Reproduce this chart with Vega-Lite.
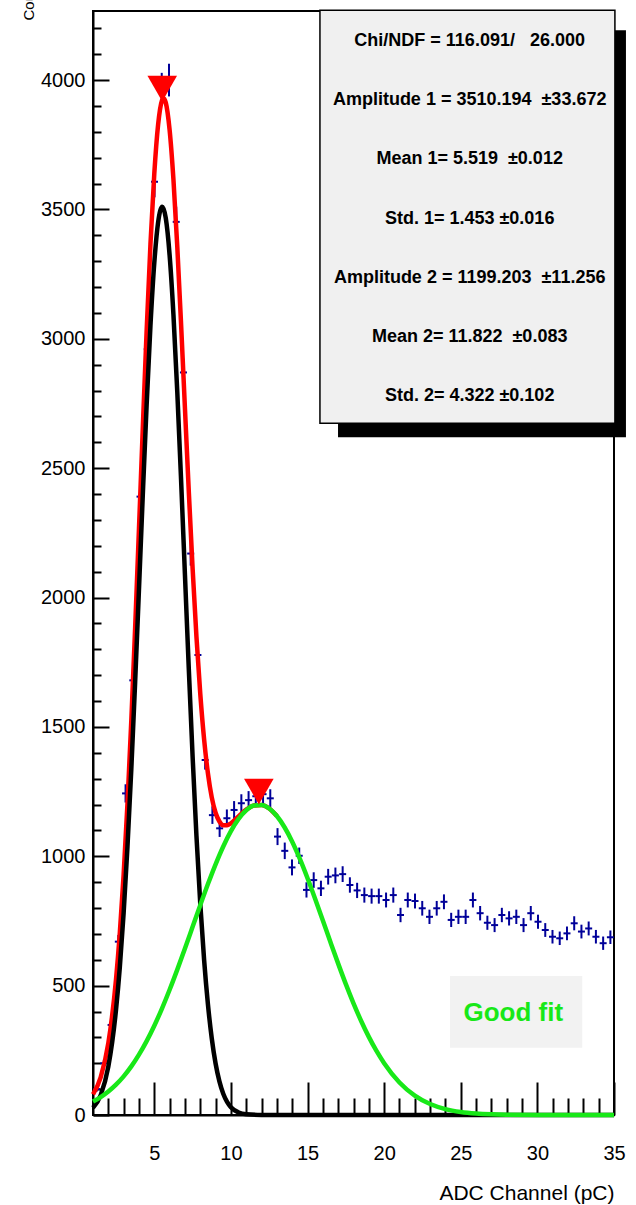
{
  "$schema": "https://vega.github.io/schema/vega-lite/v6.json",
  "width": 521,
  "height": 1104,
  "autosize": {"type": "none"},
  "padding": {"left": 93, "top": 11, "right": 22, "bottom": 90},
  "background": "white",
  "config": {
    "view": {"stroke": "black", "strokeWidth": 2},
    "font": "Liberation Sans",
    "axis": {"grid": false}
  },
  "resolve": {"axis": {"x": "independent", "y": "independent"}},
  "datasets": {
    "hist": [
      {"x": 1.236, "count": 100, "err": 10.0},
      {"x": 1.708, "count": 200, "err": 14.1},
      {"x": 2.181, "count": 348, "err": 18.7},
      {"x": 2.653, "count": 670, "err": 25.9},
      {"x": 3.125, "count": 1243, "err": 35.3},
      {"x": 3.597, "count": 1680, "err": 41.0},
      {"x": 4.069, "count": 2390, "err": 48.9},
      {"x": 4.542, "count": 2960, "err": 54.4},
      {"x": 5.014, "count": 3607, "err": 60.1},
      {"x": 5.486, "count": 3965, "err": 63.0},
      {"x": 5.958, "count": 4000, "err": 63.2},
      {"x": 6.431, "count": 3452, "err": 58.8},
      {"x": 6.903, "count": 2870, "err": 53.6},
      {"x": 7.375, "count": 2170, "err": 46.6},
      {"x": 7.847, "count": 1778, "err": 42.2},
      {"x": 8.319, "count": 1372, "err": 37.0},
      {"x": 8.792, "count": 1159, "err": 34.0},
      {"x": 9.264, "count": 1108, "err": 33.3},
      {"x": 9.736, "count": 1147, "err": 33.9},
      {"x": 10.208, "count": 1179, "err": 34.3},
      {"x": 10.681, "count": 1205, "err": 34.7},
      {"x": 11.153, "count": 1217, "err": 34.9},
      {"x": 11.625, "count": 1232, "err": 35.1},
      {"x": 12.097, "count": 1240, "err": 35.2},
      {"x": 12.569, "count": 1224, "err": 35.0},
      {"x": 13.042, "count": 1076, "err": 32.8},
      {"x": 13.514, "count": 1021, "err": 32.0},
      {"x": 13.986, "count": 957, "err": 30.9},
      {"x": 14.458, "count": 1002, "err": 31.7},
      {"x": 14.931, "count": 870, "err": 29.5},
      {"x": 15.403, "count": 908, "err": 30.1},
      {"x": 15.875, "count": 876, "err": 29.6},
      {"x": 16.347, "count": 921, "err": 30.3},
      {"x": 16.819, "count": 926, "err": 30.4},
      {"x": 17.292, "count": 931, "err": 30.5},
      {"x": 17.764, "count": 889, "err": 29.8},
      {"x": 18.236, "count": 868, "err": 29.5},
      {"x": 18.708, "count": 850, "err": 29.2},
      {"x": 19.181, "count": 846, "err": 29.1},
      {"x": 19.653, "count": 846, "err": 29.1},
      {"x": 20.125, "count": 831, "err": 28.8},
      {"x": 20.597, "count": 850, "err": 29.2},
      {"x": 21.069, "count": 773, "err": 27.8},
      {"x": 21.542, "count": 831, "err": 28.8},
      {"x": 22.014, "count": 827, "err": 28.8},
      {"x": 22.486, "count": 799, "err": 28.3},
      {"x": 22.958, "count": 766, "err": 27.7},
      {"x": 23.431, "count": 799, "err": 28.3},
      {"x": 23.903, "count": 824, "err": 28.7},
      {"x": 24.375, "count": 754, "err": 27.5},
      {"x": 24.847, "count": 766, "err": 27.7},
      {"x": 25.319, "count": 766, "err": 27.7},
      {"x": 25.792, "count": 831, "err": 28.8},
      {"x": 26.264, "count": 780, "err": 27.9},
      {"x": 26.736, "count": 743, "err": 27.3},
      {"x": 27.208, "count": 734, "err": 27.1},
      {"x": 27.681, "count": 773, "err": 27.8},
      {"x": 28.153, "count": 760, "err": 27.6},
      {"x": 28.625, "count": 766, "err": 27.7},
      {"x": 29.097, "count": 734, "err": 27.1},
      {"x": 29.569, "count": 780, "err": 27.9},
      {"x": 30.042, "count": 747, "err": 27.3},
      {"x": 30.514, "count": 715, "err": 26.7},
      {"x": 30.986, "count": 689, "err": 26.2},
      {"x": 31.458, "count": 683, "err": 26.1},
      {"x": 31.931, "count": 702, "err": 26.5},
      {"x": 32.403, "count": 741, "err": 27.2},
      {"x": 32.875, "count": 709, "err": 26.6},
      {"x": 33.347, "count": 721, "err": 26.9},
      {"x": 33.819, "count": 689, "err": 26.2},
      {"x": 34.292, "count": 664, "err": 25.8},
      {"x": 34.764, "count": 687, "err": 26.2}
    ],
    "fsum": [
      {"x": 1, "y": 80.0}, {"x": 1.5, "y": 145.8}, {"x": 2, "y": 277.6}, {"x": 2.5, "y": 522.6},
      {"x": 2.75, "y": 703.6}, {"x": 3, "y": 930.3}, {"x": 3.25, "y": 1204.8}, {"x": 3.5, "y": 1524.6},
      {"x": 3.75, "y": 1882.5}, {"x": 4, "y": 2265.6}, {"x": 4.25, "y": 2655.7}, {"x": 4.5, "y": 3030.4},
      {"x": 4.75, "y": 3365.8}, {"x": 5, "y": 3638.3}, {"x": 5.25, "y": 3828.0}, {"x": 5.5, "y": 3921.3},
      {"x": 5.6, "y": 3930.1}, {"x": 5.75, "y": 3913.1}, {"x": 6, "y": 3807.1}, {"x": 6.25, "y": 3615.2},
      {"x": 6.5, "y": 3356.6}, {"x": 6.75, "y": 3054.1}, {"x": 7, "y": 2731.6}, {"x": 7.25, "y": 2411.7},
      {"x": 7.5, "y": 2113.0}, {"x": 7.75, "y": 1849.2}, {"x": 8, "y": 1628.1}, {"x": 8.25, "y": 1452.4},
      {"x": 8.5, "y": 1320.4}, {"x": 8.75, "y": 1227.7}, {"x": 9, "y": 1168.1}, {"x": 9.25, "y": 1134.5},
      {"x": 9.5, "y": 1120.2}, {"x": 9.75, "y": 1119.6}, {"x": 10, "y": 1127.4}, {"x": 10.5, "y": 1154.3},
      {"x": 11, "y": 1180.6}, {"x": 11.5, "y": 1196.6}, {"x": 12, "y": 1198.4}, {"x": 12.5, "y": 1184.5},
      {"x": 13, "y": 1155.5}
    ],
    "g1": [
      {"x": 1, "y": 27.8}, {"x": 1.5, "y": 76.6}, {"x": 2, "y": 186.9}, {"x": 2.5, "y": 405.4},
      {"x": 2.75, "y": 571.1}, {"x": 3, "y": 781.0}, {"x": 3.25, "y": 1037.0}, {"x": 3.5, "y": 1336.8},
      {"x": 3.75, "y": 1672.9}, {"x": 4, "y": 2032.4}, {"x": 4.25, "y": 2397.2}, {"x": 4.5, "y": 2744.8},
      {"x": 4.75, "y": 3051.4}, {"x": 5, "y": 3293.3}, {"x": 5.25, "y": 3450.6}, {"x": 5.519, "y": 3510.2},
      {"x": 5.75, "y": 3466.1}, {"x": 6, "y": 3323.1}, {"x": 6.25, "y": 3092.9}, {"x": 6.5, "y": 2794.7},
      {"x": 6.75, "y": 2451.8}, {"x": 7, "y": 2088.0}, {"x": 7.25, "y": 1726.4}, {"x": 7.5, "y": 1385.7},
      {"x": 7.75, "y": 1079.8}, {"x": 8, "y": 817.0}, {"x": 8.25, "y": 600.1}, {"x": 8.5, "y": 427.9},
      {"x": 8.75, "y": 296.2}, {"x": 9, "y": 199.1}, {"x": 9.25, "y": 129.9}, {"x": 9.5, "y": 82.2},
      {"x": 9.75, "y": 50.6}, {"x": 10, "y": 30.2}, {"x": 10.5, "y": 9.9}, {"x": 11, "y": 2.9},
      {"x": 12, "y": 0.2}, {"x": 13, "y": 0}, {"x": 20, "y": 0}, {"x": 35, "y": 0}
    ],
    "g2": [
      {"x": 1, "y": 52.2}, {"x": 1.5, "y": 69.2}, {"x": 2, "y": 90.7}, {"x": 2.5, "y": 117.2},
      {"x": 3, "y": 149.3}, {"x": 3.5, "y": 187.8}, {"x": 4, "y": 233.2}, {"x": 4.5, "y": 285.6},
      {"x": 5, "y": 345.0}, {"x": 5.5, "y": 411.4}, {"x": 6, "y": 484.0}, {"x": 6.5, "y": 561.9},
      {"x": 7, "y": 643.6}, {"x": 7.5, "y": 727.3}, {"x": 8, "y": 811.1}, {"x": 8.5, "y": 892.5},
      {"x": 9, "y": 969.0}, {"x": 9.5, "y": 1038.0}, {"x": 10, "y": 1097.2}, {"x": 10.5, "y": 1144.4},
      {"x": 11, "y": 1177.7}, {"x": 11.5, "y": 1195.9}, {"x": 12, "y": 1198.2}, {"x": 12.5, "y": 1184.5},
      {"x": 13, "y": 1155.5}, {"x": 13.5, "y": 1112.1}, {"x": 14, "y": 1056.2}, {"x": 14.5, "y": 989.7},
      {"x": 15, "y": 915.1}, {"x": 15.5, "y": 834.9}, {"x": 16, "y": 751.6}, {"x": 16.5, "y": 667.6},
      {"x": 17, "y": 585.1}, {"x": 17.5, "y": 505.9}, {"x": 18, "y": 431.7}, {"x": 18.5, "y": 363.4},
      {"x": 19, "y": 301.9}, {"x": 19.5, "y": 247.5}, {"x": 20, "y": 200.2}, {"x": 21, "y": 125.8},
      {"x": 22, "y": 74.9}, {"x": 23, "y": 42.3}, {"x": 24, "y": 22.6}, {"x": 25, "y": 11.5},
      {"x": 26, "y": 5.5}, {"x": 27, "y": 2.5}, {"x": 28, "y": 1.1}, {"x": 30, "y": 0.2}, {"x": 35, "y": 0}
    ],
    "peaks": [
      {"x": 5.519, "y": 3967},
      {"x": 11.822, "y": 1250}
    ]
  },
  "layer": [
    {
      "data": {"name": "hist"},
      "mark": {"type": "errorbar", "color": "#000099", "thickness": 2},
      "encoding": {
        "x": {
          "field": "x", "type": "quantitative",
          "scale": {"domain": [1, 35], "nice": false, "zero": false},
          "axis": {
            "orient": "bottom",
            "title": "ADC Channel (pC)",
            "values": [5, 10, 15, 20, 25, 30, 35],
            "format": "d",
            "tickSize": -33,
            "tickWidth": 2, "tickColor": "black",
            "domainColor": "black", "domainWidth": 2,
            "labelFontSize": 20, "labelColor": "black", "labelPadding": 61,
            "labelFlush": false, "labelOverlap": false,
            "titleFontSize": 21, "titleFontWeight": "normal", "titleColor": "black",
            "titleAnchor": "end", "titleAlign": "right", "titleBaseline": "alphabetic", "titleY": 84
          }
        },
        "y": {
          "field": "count", "type": "quantitative",
          "scale": {"domain": [0, 4267], "nice": false},
          "axis": {
            "orient": "left",
            "title": "Counts",
            "values": [0, 500, 1000, 1500, 2000, 2500, 3000, 3500, 4000],
            "format": "d",
            "tickSize": -16,
            "tickWidth": 2, "tickColor": "black",
            "domainColor": "black", "domainWidth": 2,
            "labelFontSize": 20, "labelColor": "black", "labelPadding": 24,
            "labelFlush": false, "labelOverlap": false,
            "titleFontSize": 15, "titleFontWeight": "normal", "titleColor": "black",
            "titleAngle": -90, "titleAlign": "left", "titleBaseline": "alphabetic",
            "titleX": -60, "titleY": 9
          }
        },
        "yError": {"field": "err"}
      }
    },
    {
      "data": {"name": "hist"},
      "mark": {"type": "tick", "orient": "horizontal", "size": 7, "thickness": 2, "color": "#000099", "opacity": 1},
      "encoding": {
        "x": {
          "field": "x", "type": "quantitative",
          "axis": {
            "orient": "bottom", "title": null, "labels": false, "domain": false,
            "values": [2,3,4,6,7,8,9,11,12,13,14,16,17,18,19,21,22,23,24,26,27,28,29,31,32,33,34],
            "tickSize": -17, "tickWidth": 2, "tickColor": "black"
          }
        },
        "y": {
          "field": "count", "type": "quantitative",
          "axis": {
            "orient": "left", "title": null, "labels": false, "domain": false,
            "values": [100,200,300,400,600,700,800,900,1100,1200,1300,1400,1600,1700,1800,1900,2100,2200,2300,2400,2600,2700,2800,2900,3100,3200,3300,3400,3600,3700,3800,3900,4100,4200],
            "tickSize": -8, "tickWidth": 2, "tickColor": "black"
          }
        }
      }
    },
    {
      "data": {"name": "fsum"},
      "mark": {"type": "line", "color": "#ff0000", "strokeWidth": 4.5, "interpolate": "monotone"},
      "encoding": {
        "x": {"field": "x", "type": "quantitative", "axis": null},
        "y": {"field": "y", "type": "quantitative", "axis": null}
      }
    },
    {
      "data": {"name": "g1"},
      "mark": {"type": "line", "color": "#000000", "strokeWidth": 4.5, "interpolate": "monotone"},
      "encoding": {
        "x": {"field": "x", "type": "quantitative", "axis": null},
        "y": {"field": "y", "type": "quantitative", "axis": null}
      }
    },
    {
      "data": {"name": "g2"},
      "mark": {"type": "line", "color": "#18e818", "strokeWidth": 4.5, "interpolate": "monotone"},
      "encoding": {
        "x": {"field": "x", "type": "quantitative", "axis": null},
        "y": {"field": "y", "type": "quantitative", "axis": null}
      }
    },
    {
      "data": {"name": "peaks"},
      "mark": {"type": "point", "shape": "triangle-down", "filled": true, "color": "#ff0000", "size": 876, "opacity": 1},
      "encoding": {
        "x": {"field": "x", "type": "quantitative", "axis": null},
        "y": {"field": "y", "type": "quantitative", "axis": null}
      }
    },
    {
      "data": {"values": [{}]},
      "mark": {"type": "rect", "color": "#000000"},
      "encoding": {
        "x": {"datum": 16.99, "axis": null}, "x2": {"datum": 35.78},
        "y": {"datum": 4193, "axis": null}, "y2": {"datum": 2620}
      }
    },
    {
      "data": {"values": [{}]},
      "mark": {"type": "rect", "fill": "#f0f0f0", "stroke": "#000000", "strokeWidth": 1.5},
      "encoding": {
        "x": {"datum": 15.81, "axis": null}, "x2": {"datum": 35.06},
        "y": {"datum": 4270, "axis": null}, "y2": {"datum": 2674}
      }
    },
    {
      "data": {"values": [{}]},
      "mark": {
        "type": "text",
        "text": [
          "Chi/NDF = 116.091/\u00a0\u00a0 26.000",
          "Amplitude 1 = 3510.194 \u00a0±33.672",
          "Mean 1= 5.519 \u00a0±0.012",
          "Std. 1= 1.453 ±0.016",
          "Amplitude 2 = 1199.203 \u00a0±11.256",
          "Mean 2= 11.822 \u00a0±0.083",
          "Std. 2= 4.322 ±0.102"
        ],
        "lineHeight": 59.2, "fontSize": 18, "fontWeight": "bold", "font": "Liberation Sans",
        "color": "#000000", "align": "center", "baseline": "middle"
      },
      "encoding": {
        "x": {"datum": 25.58, "axis": null},
        "y": {"datum": 4151, "axis": null}
      }
    },
    {
      "data": {"values": [{}]},
      "mark": {"type": "rect", "fill": "#f2f2f2"},
      "encoding": {
        "x": {"datum": 24.30, "axis": null}, "x2": {"datum": 32.93},
        "y": {"datum": 537, "axis": null}, "y2": {"datum": 260}
      }
    },
    {
      "data": {"values": [{}]},
      "mark": {"type": "text", "text": "Good fit", "fontSize": 26, "fontWeight": "bold", "font": "Liberation Sans", "color": "#18e818", "align": "center", "baseline": "middle"},
      "encoding": {
        "x": {"datum": 28.43, "axis": null},
        "y": {"datum": 393, "axis": null}
      }
    }
  ]
}
